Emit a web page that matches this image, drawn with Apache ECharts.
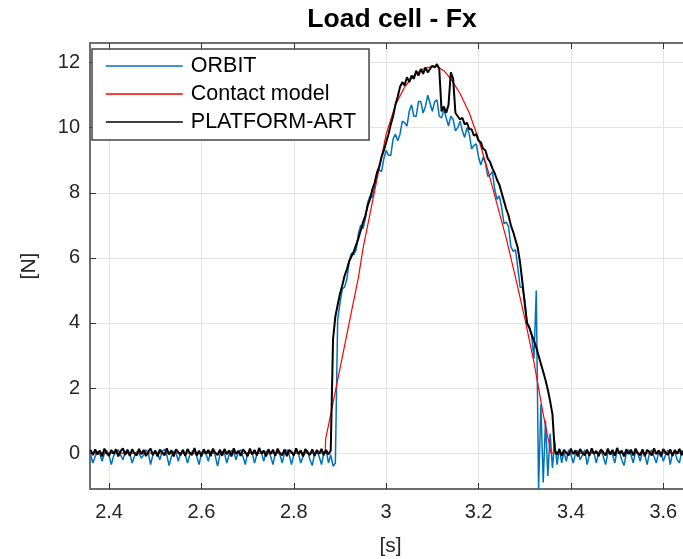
<!DOCTYPE html>
<html>
<head>
<meta charset="utf-8">
<script src="https://cdn.jsdelivr.net/npm/echarts@6/dist/echarts.min.js"></script>
<style>
html,body{margin:0;padding:0;background:#fff;}
#chart{width:683px;height:559px;}
</style>
</head>
<body>
<div id="chart"></div>
<script>
// ---------------- data ----------------
const titleText = 'Load cell - Fx';
const xAxisName = '[s]';
const yAxisName = '[N]';
const seriesNames = ['ORBIT', 'Contact model', 'PLATFORM-ART'];
const xTicks = [2.4, 2.6, 2.8, 3.0, 3.2, 3.4, 3.6];
const yTicks = [0, 2, 4, 6, 8, 10, 12];

// ORBIT and PLATFORM-ART are sampled every 5 ms starting at 2.36 s
const sampleStart = 2.36;
const sampleStep = 0.005;

const orbitValues = [
  // 2.360 - 2.890 (rest)
  -0.05, -0.3, -0.1, 0.05, -0.02, -0.25, 0.0, 0.08, -0.05, -0.35, -0.08, 0.05, 0.1, -0.05, -0.2, 0.02, 0.12, -0.02, -0.3, -0.1,
  0.05, 0.0, -0.15, -0.05, 0.1, 0.02, -0.35, -0.05, 0.08, 0.0, -0.2, 0.05, 0.12, -0.05, -0.38, -0.1, 0.06, 0.02, -0.25, 0.0,
  0.1, -0.05, -0.3, -0.05, 0.05, 0.12, -0.1, -0.35, 0.0, 0.08, -0.02, -0.25, 0.05, 0.1, -0.08, -0.4, -0.05, 0.06, 0.0, -0.3,
  -0.05, 0.08, 0.02, -0.2, 0.05, 0.1, -0.1, -0.35, 0.0, 0.06, 0.0, -0.3, -0.05, 0.1, 0.02, -0.25, 0.05, 0.08, -0.1, -0.35,
  0.0, 0.05, -0.05, -0.3, 0.02, 0.1, -0.05, -0.35, -0.05, 0.06, 0.0, -0.3, -0.1, 0.05, 0.08, -0.2, -0.38, -0.02, 0.05, -0.1,
  -0.35, 0.02, 0.1, -0.3, -0.05, -0.4, -0.3,
  // 2.895 - 3.320 (contact)
  4.1, 4.6,
  5.05, 5.1, 5.35, 5.9, 6.15, 6.1, 6.25, 6.75, 7.0, 6.9,
  7.2, 7.7, 7.9, 7.85, 8.2, 8.65, 8.7, 8.65, 9.05, 9.3,
  9.15, 9.15, 9.65, 9.8, 9.6, 9.8, 10.2, 10.15, 10.05, 10.5,
  10.7, 10.35, 10.35, 10.8, 10.8, 10.45, 10.65, 11.0, 10.75, 10.5,
  10.8, 10.85, 10.35, 10.3, 10.55, 10.3, 10.05, 10.35, 10.25, 9.9,
  10.0, 10.2, 9.9, 9.7, 10.0, 9.8, 9.35, 9.45, 9.5, 9.1,
  8.85, 9.1, 8.9, 8.5, 8.55, 8.65, 8.1, 7.8, 7.9, 7.55,
  7.05, 7.1, 6.95, 6.35, 6.2, 6.25, 5.7, 5.1, 5.1, 4.7,
  4.0, 3.9, 3.6, 2.9,
  // 3.325 - 3.380 (release spike and ringing)
  5.0, -1.1, 1.5, -0.9, 1.0, -0.7, 0.6, -0.45, 0.35, -0.35, 0.15, -0.3,
  // 3.385 - 3.660 (rest)
  0.05, -0.25, 0.1, -0.05, -0.3, 0.0, 0.08, -0.2, -0.05, 0.1,
  -0.35, -0.05, 0.05, 0.0, -0.3, 0.02, 0.1, -0.1, -0.35, 0.0,
  0.05, -0.05, -0.3, 0.08, 0.02, -0.2, -0.38, 0.0, 0.1, -0.05,
  -0.3, 0.05, 0.0, -0.25, 0.08, -0.05, -0.35, 0.0, 0.1, -0.1,
  -0.3, 0.05, 0.02, -0.25, -0.05, 0.1, -0.35, 0.0, 0.05, -0.2,
  -0.3, 0.08, 0.0, -0.25, 0.05, -0.1
];

const platformValues = [
  // 2.360 - 2.880 (rest)
  0.1, -0.06, 0.12, -0.04, 0.08, -0.1, 0.14, 0.0, -0.08, 0.1, -0.02, 0.12, -0.1, 0.06, 0.15, -0.05, 0.09, -0.08, 0.12, 0.0,
  -0.07, 0.13, -0.03, 0.1, -0.09, 0.05, 0.14, -0.06, 0.08, -0.1, 0.11, 0.02, -0.07, 0.15, -0.04, 0.09, -0.1, 0.12, 0.03, -0.06,
  0.1, -0.08, 0.13, 0.0, -0.05, 0.16, -0.07, 0.08, -0.1, 0.12, -0.02, 0.1, -0.09, 0.14, 0.01, -0.06, 0.11, -0.08, 0.13, -0.03,
  0.09, -0.1, 0.15, -0.02, 0.07, -0.08, 0.12, 0.03, -0.09, 0.14, -0.04, 0.1, -0.07, 0.16, -0.01, 0.08, -0.1, 0.12, -0.03, 0.11,
  -0.08, 0.14, 0.0, -0.06, 0.12, -0.09, 0.1, 0.04, -0.07, 0.15, -0.03, 0.09, -0.1, 0.13, 0.01, -0.05, 0.12, -0.08, 0.1, -0.02,
  0.13, -0.06, 0.1, -0.04, 0.08,
  // 2.885 - 3.360 (contact)
  3.5, 4.2, 4.55, 4.9, 5.15, 5.45, 5.65, 5.9, 6.05, 6.2,
  6.4, 6.6, 6.85, 7.1, 7.3, 7.6, 7.8, 8.1, 8.3, 8.6,
  8.8, 9.1, 9.3, 9.55, 9.8, 10.1, 10.35, 10.7, 10.95, 11.25,
  11.4, 11.3, 11.55, 11.4, 11.6, 11.5, 11.75, 11.6, 11.8, 11.65,
  11.85, 11.7, 11.8, 11.9, 11.85, 11.95, 11.8, 10.5, 10.65, 10.45,
  10.7, 11.7, 11.5, 10.45, 10.35, 10.25, 10.3, 10.1, 10.15, 9.95,
  9.95, 9.75, 9.8, 9.6, 9.55, 9.35, 9.3, 9.05, 8.95, 8.75,
  8.6, 8.4, 8.25, 8.0, 7.75, 7.5, 7.3, 7.0, 6.8, 6.55,
  6.3, 5.85, 5.25, 4.6, 4.0, 3.85, 3.65, 3.45, 3.25, 3.0,
  2.75, 2.5, 2.25, 1.95, 1.6, 1.2,
  // 3.365 - 3.660 (rest)
  0.08, -0.05, 0.12, -0.08, 0.1, 0.02, -0.07, 0.14, -0.03, 0.09,
  -0.1, 0.13, 0.0, -0.06, 0.11, -0.08, 0.15, -0.02, 0.07, -0.09,
  0.12, 0.03, -0.07, 0.14, -0.04, 0.1, -0.08, 0.16, -0.01, 0.08,
  -0.1, 0.12, -0.03, 0.11, -0.07, 0.14, 0.0, -0.06, 0.12, -0.09,
  0.1, 0.04, -0.07, 0.15, -0.03, 0.09, -0.1, 0.13, 0.01, -0.05,
  0.12, -0.08, 0.1, -0.02, 0.13, -0.06, 0.1, -0.04, 0.08, 0.0
];

// Contact model: [time, force]
const contactTimes = [2.36, 2.868, 2.869, 2.875, 2.89, 2.90, 2.92, 2.94, 2.95, 2.96, 2.98, 3.00, 3.02, 3.04, 3.06, 3.08, 3.10, 3.11,
  3.125, 3.14, 3.16, 3.18, 3.20, 3.22, 3.24, 3.26, 3.28, 3.30, 3.32, 3.34, 3.357, 3.66];
const contactValues = [0, 0, 0.45, 0.85, 1.9, 2.6, 4.0, 5.4, 6.3, 7.0, 8.4, 9.8, 10.7, 11.25, 11.6, 11.8, 11.88, 11.88,
  11.75, 11.5, 11.05, 10.45, 9.65, 8.7, 7.65, 6.6, 5.4, 4.15, 2.8, 1.2, 0, 0];

// ---------------- build ----------------
function sampled(values) {
  return values.map((v, i) => [+(sampleStart + i * sampleStep).toFixed(4), v]);
}
const orbitData = sampled(orbitValues);
const platformData = sampled(platformValues);
const contactData = contactTimes.map((t, i) => [t, contactValues[i]]);

const FONT = 'Liberation Sans, Arial, Helvetica, sans-serif';
const AXIS_COLOR = '#666666';
const TEXT_COLOR = '#262626';
const GRID_COLOR = '#e4e4e4';

const chart = echarts.init(document.getElementById('chart'), null, {renderer: 'canvas'});

const xLabelFmt = v => (Math.abs(v - Math.round(v)) < 1e-9 ? String(Math.round(v)) : String(+v.toFixed(1)));

chart.setOption({
  animation: false,
  backgroundColor: '#ffffff',
  graphic: [{
    type: 'text',
    x: 392, y: 20,
    style: {
      text: titleText,
      fontFamily: FONT, fontSize: 26.5, fontWeight: 'bold',
      fill: '#000', textAlign: 'center', textVerticalAlign: 'middle'
    },
    z: 100
  }],
  grid: {
    left: 90, top: 43, width: 601, height: 446,
    outerBoundsMode: 'none',
    containLabel: false,
    show: true, borderColor: AXIS_COLOR, borderWidth: 1.5, backgroundColor: '#fff'
  },
  legend: {
    orient: 'vertical',
    left: 92, top: 49,
    padding: [6, 13, 7, 13],
    itemWidth: 77, itemHeight: 21, itemGap: 6,
    backgroundColor: '#fff', borderColor: '#444', borderWidth: 1.5,
    itemStyle: {opacity: 0},
    lineStyle: {width: 1.6},
    textStyle: {fontFamily: FONT, fontSize: 21.5, color: '#000', padding: [0, 0, 0, 3]},
    data: seriesNames
  },
  xAxis: [{
    type: 'value',
    min: 2.3588, max: 3.66,
    position: 'bottom',
    name: xAxisName, nameLocation: 'middle', nameGap: 47,
    nameTextStyle: {fontFamily: FONT, fontSize: 21, color: TEXT_COLOR},
    axisLine: {show: true, onZero: false, lineStyle: {color: AXIS_COLOR, width: 1.5}},
    axisTick: {show: true, inside: true, length: 6, customValues: xTicks, lineStyle: {color: '#333', width: 1}},
    axisLabel: {customValues: xTicks, formatter: xLabelFmt, margin: 13, fontFamily: FONT, fontSize: 20, color: TEXT_COLOR},
    splitLine: {show: true, lineStyle: {color: GRID_COLOR, width: 1}}
  }, {
    type: 'value',
    min: 2.3588, max: 3.66,
    position: 'top',
    axisLine: {show: true, onZero: false, lineStyle: {color: AXIS_COLOR, width: 1.5}},
    axisTick: {show: true, inside: true, length: 6, customValues: xTicks, lineStyle: {color: '#333', width: 1}},
    axisLabel: {show: false},
    splitLine: {show: false}
  }],
  yAxis: {
    type: 'value',
    min: -1.1, max: 12.6,
    name: yAxisName, nameLocation: 'middle', nameGap: 50,
    nameTextStyle: {fontFamily: FONT, fontSize: 21, color: TEXT_COLOR},
    axisLine: {show: true, onZero: false, lineStyle: {color: AXIS_COLOR, width: 1.5}},
    axisTick: {show: true, inside: true, length: 6, customValues: yTicks, lineStyle: {color: '#333', width: 1}},
    axisLabel: {customValues: yTicks, margin: 10, fontFamily: FONT, fontSize: 20, color: TEXT_COLOR},
    splitLine: {show: true, lineStyle: {color: GRID_COLOR, width: 1}}
  },
  series: [{
    name: seriesNames[0], type: 'line', data: orbitData,
    symbol: 'none', xAxisIndex: 0,
    lineStyle: {color: '#0072BD', width: 1.5}, itemStyle: {color: '#0072BD'}, z: 2
  }, {
    name: seriesNames[1], type: 'line', data: contactData,
    symbol: 'none', xAxisIndex: 0,
    lineStyle: {color: '#FF0000', width: 1.2}, itemStyle: {color: '#FF0000'}, z: 3
  }, {
    name: seriesNames[2], type: 'line', data: platformData,
    symbol: 'none', xAxisIndex: 0,
    lineStyle: {color: '#000000', width: 2}, itemStyle: {color: '#000000'}, z: 4
  }]
});
</script>
</body>
</html>
